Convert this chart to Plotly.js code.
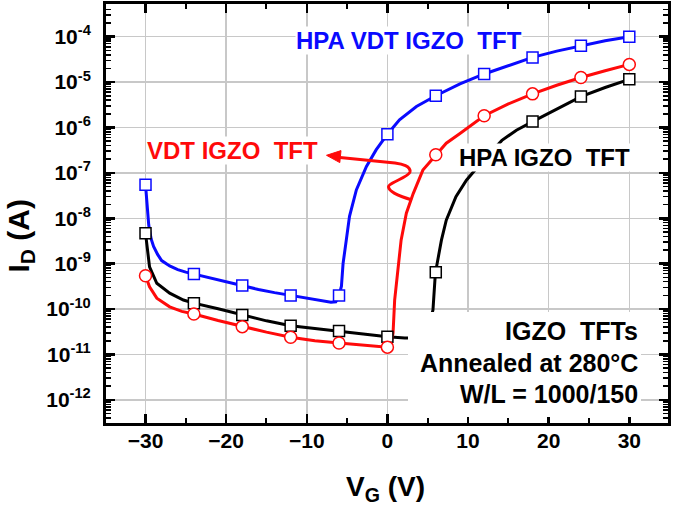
<!DOCTYPE html>
<html>
<head>
<meta charset="utf-8">
<script src="https://cdn.plot.ly/plotly-3.0.1.min.js"></script>
<style>html,body{margin:0;padding:0;background:#fff;}#chart{width:675px;height:517px;}</style>
</head>
<body>
<div id="chart"></div>
<script>
// ---- data (VG in V, ID in A) ----
const vgBlueLine = [-30,-29.8,-29.6,-29.3,-29,-28.5,-28,-27,-26,-25,-24,-22,-20,-18,-16,-14,-12,-10,-8,-7,-6.4,-6,-5.7,-5.5,-5.1,-4.7,-3.85,-2.6,-1.4,0,1.5,3.6,6,9,12,15,18,21,24,27,30];
const idBlueLine = [5.5e-8,1.6e-8,7.1e-9,3.5e-9,2.4e-9,1.6e-9,1.17e-9,8.9e-10,7.4e-10,6.5e-10,5.9e-10,4.7e-10,3.9e-10,3.3e-10,2.7e-10,2.3e-10,2.0e-10,1.74e-10,1.51e-10,1.41e-10,1.45e-10,2.0e-10,3.2e-10,1.0e-9,3.3e-9,1.1e-8,4.2e-8,1.38e-7,3.2e-7,7.1e-7,1.48e-6,2.9e-6,5.0e-6,9.1e-6,1.51e-5,2.34e-5,3.5e-5,4.8e-5,6.3e-5,8.1e-5,1.0e-4];

const vgRedLine = [-30,-29.5,-28.6,-27,-25.5,-24,-21,-18,-15,-12,-9,-6,-3,0,0.4,0.7,0.9,1.3,1.7,2.35,3.2,4.4,6,7.3,9,12,15,18,21,24,27,30];
const idRedLine = [5.4e-10,3.1e-10,1.74e-10,1.12e-10,8.9e-11,7.8e-11,5.6e-11,4.1e-11,3.1e-11,2.4e-11,2.0e-11,1.78e-11,1.58e-11,1.45e-11,1.58e-11,2.95e-11,1.58e-10,8.5e-10,3.3e-9,1.29e-8,3.5e-8,1.15e-7,2.5e-7,4.5e-7,7.4e-7,1.82e-6,3.3e-6,5.5e-6,8.5e-6,1.26e-5,1.78e-5,2.45e-5];

const vgBlackLine = [-30,-29.7,-29.5,-28.6,-27,-25.3,-24,-21,-18,-15,-12,-9,-6,-3,0,2.15,3.5,4.8,5.45,5.65,5.95,6.3,6.7,7.3,8.5,9.8,11,12,14.2,16,18,21,24,27,30];
const idBlackLine = [4.7e-9,1.7e-9,8.5e-10,3.7e-10,2.24e-10,1.58e-10,1.35e-10,1.02e-10,7.4e-11,5.5e-11,4.3e-11,3.7e-11,3.3e-11,2.8e-11,2.45e-11,2.3e-11,2.3e-11,2.8e-11,6.8e-11,9.5e-11,6.2e-10,1.41e-9,3.3e-9,9.1e-9,3.0e-8,6.9e-8,1.26e-7,2.0e-7,5.2e-7,8.7e-7,1.35e-6,2.6e-6,4.8e-6,7.6e-6,1.15e-5];

const vgMarkers = [-30,-24,-18,-12,-6,0,6,12,18,24,30];
const idBlueMarkers  = [5.5e-8,5.9e-10,3.3e-10,2.0e-10,2.0e-10,7.1e-7,5.0e-6,1.51e-5,3.5e-5,6.3e-5,1.0e-4];
const idRedMarkers   = [5.4e-10,7.8e-11,4.1e-11,2.4e-11,1.78e-11,1.45e-11,2.5e-7,1.82e-6,5.5e-6,1.26e-5,2.45e-5];
const idBlackMarkers = [4.7e-9,1.35e-10,7.4e-11,4.3e-11,3.3e-11,2.45e-11,6.5e-10,2.0e-7,1.35e-6,4.8e-6,1.15e-5];

// y tick labels
const yTickVals = [1e-12,1e-11,1e-10,1e-9,1e-8,1e-7,1e-6,1e-5,1e-4];
const yTickText = ['10<sup>-12</sup>','10<sup>-11</sup>','10<sup>-10</sup>','10<sup>-9</sup>','10<sup>-8</sup>','10<sup>-7</sup>','10<sup>-6</sup>','10<sup>-5</sup>','10<sup>-4</sup>'];

const labelBlue = 'HPA VDT IGZO\u00a0 TFT';
const labelRed = 'VDT IGZO\u00a0 TFT';
const labelBlack = 'HPA IGZO\u00a0 TFT';
const infoLines = ['IGZO\u00a0 TFTs', 'Annealed at 280°C', 'W/L = 1000/150'];
const xTitle = 'V<sub>G</sub> (V)';
const yTitle = 'I<sub>D</sub> (A)';

// ---- styling / geometry ----
const BLUE = '#0a0aff', RED = '#ff0a0a', BLACK = '#000000';
const FONT = 'Liberation Sans, Arial, Helvetica, sans-serif';
const M = {l:106, r:7, t:4, b:94};
const W = 675 - M.l - M.r, H = 517 - M.t - M.b;
const px = v => (v - M.l) / W;
const py = v => (M.t + H - v) / H;
function pathOf(cmds){
  return cmds.map(c => c[0] + ' ' + c.slice(1).reduce((a,v,i)=>{ if(i%2===0) a.push(px(v).toFixed(5)); else a[a.length-1] += ',' + py(v).toFixed(5); return a;}, []).join(' ')).join(' ');
}
// minor tick positions for the log axis (2..9 within each decade)
const minorLogTicks = [];
for (let d = -13; d <= -3; d++) for (let m = 2; m <= 9; m++) minorLogTicks.push(m * Math.pow(10, d));

function lineTrace(x, y, color){
  return {x, y, type:'scatter', mode:'lines', line:{color, width:3}, hoverinfo:'skip'};
}
function markerTrace(x, y, color, symbol, size){
  return {x, y, type:'scatter', mode:'markers', marker:{symbol, size, color:'#ffffff', line:{color, width:1.5}}, hoverinfo:'skip'};
}

const data = [
  lineTrace(vgBlackLine, idBlackLine, BLACK),
  lineTrace(vgRedLine, idRedLine, RED),
  lineTrace(vgBlueLine, idBlueLine, BLUE),
  markerTrace(vgMarkers, idBlackMarkers, BLACK, 'square', 11),
  markerTrace(vgMarkers, idRedMarkers, RED, 'circle', 12),
  markerTrace(vgMarkers, idBlueMarkers, BLUE, 'square', 11)
];

const arrowPath = pathOf([
  ['M', 412,200],
  ['C', 402,197, 389,192, 388.5,187],
  ['C', 388,183, 409,177, 410,172],
  ['C', 411,166, 402,164, 395,163],
  ['L', 340,157.5]
]);
const headPath = pathOf([['M',326.5,155.3],['L',341,150.6],['L',339.8,162.6]]) + ' Z';

const shapes = [
  {type:'rect', xref:'paper', yref:'paper', x0:px(408), x1:px(641), y0:py(417), y1:py(312), fillcolor:'#ffffff', line:{width:0}, layer:'above'},
  {type:'path', xref:'paper', yref:'paper', path:arrowPath, line:{color:RED, width:3}, layer:'above'},
  {type:'path', xref:'paper', yref:'paper', path:headPath, fillcolor:RED, line:{color:RED, width:1}, layer:'above'}
];

function ann(text, x, y, opts){
  return Object.assign({text, xref:'paper', yref:'paper', x:px(x), y:py(y), showarrow:false,
    xanchor:'center', yanchor:'middle', font:{family:FONT, size:24, color:BLACK, weight:'bold'}}, opts||{});
}
const annotations = [
  ann(labelBlue, 409, 40, {font:{family:FONT,size:24,color:BLUE,weight:'bold'}, bgcolor:'#ffffff', borderpad:0}),
  ann(labelRed, 232.5, 151, {font:{family:FONT,size:24,color:RED,weight:'bold'}, bgcolor:'#ffffff', borderpad:0}),
  ann(labelBlack, 544, 157.5, {bgcolor:'#ffffff', borderpad:0}),
  ann(infoLines[0], 640, 331, {xanchor:'right', font:{family:FONT,size:25,color:BLACK,weight:'bold'}}),
  ann(infoLines[1], 640, 363, {xanchor:'right', font:{family:FONT,size:25,color:BLACK,weight:'bold'}}),
  ann(infoLines[2], 640, 394, {xanchor:'right', font:{family:FONT,size:25,color:BLACK,weight:'bold'}}),
  ann(xTitle, 385, 488, {font:{family:FONT,size:28,color:BLACK,weight:'bold'}}),
  ann(yTitle, 20, 235.5, {textangle:-90, font:{family:FONT,size:30,color:BLACK,weight:'bold'}})
];

const axisCommon = {
  showline:true, linecolor:BLACK, linewidth:3, mirror:'ticks',
  ticks:'inside', ticklen:9, tickwidth:2.5, tickcolor:BLACK,
  showgrid:true, gridcolor:'#c8c8c8', gridwidth:1.5, zeroline:false,
  tickfont:{family:FONT, size:21, color:BLACK, weight:'bold'}
};

const layout = {
  width:675, height:517, margin:M, paper_bgcolor:'#ffffff', plot_bgcolor:'#ffffff',
  showlegend:false,
  xaxis: Object.assign({}, axisCommon, {range:[-34.9,34.8], tick0:0, dtick:10, ticklabelstandoff:-3,
    minor:{dtick:5, ticks:'inside', ticklen:5, tickwidth:2, tickcolor:BLACK, showgrid:false}}),
  yaxis: Object.assign({}, axisCommon, {type:'log', range:[-12.51,-3.28], tickmode:'array', tickvals:yTickVals, ticktext:yTickText, ticklabelstandoff:8,
    minor:{tickmode:'array', tickvals:minorLogTicks, ticks:'inside', ticklen:5, tickwidth:1.5, tickcolor:BLACK, showgrid:false}}),
  shapes, annotations
};

Plotly.newPlot('chart', data, layout, {staticPlot:true, displayModeBar:false});
</script>
</body>
</html>
